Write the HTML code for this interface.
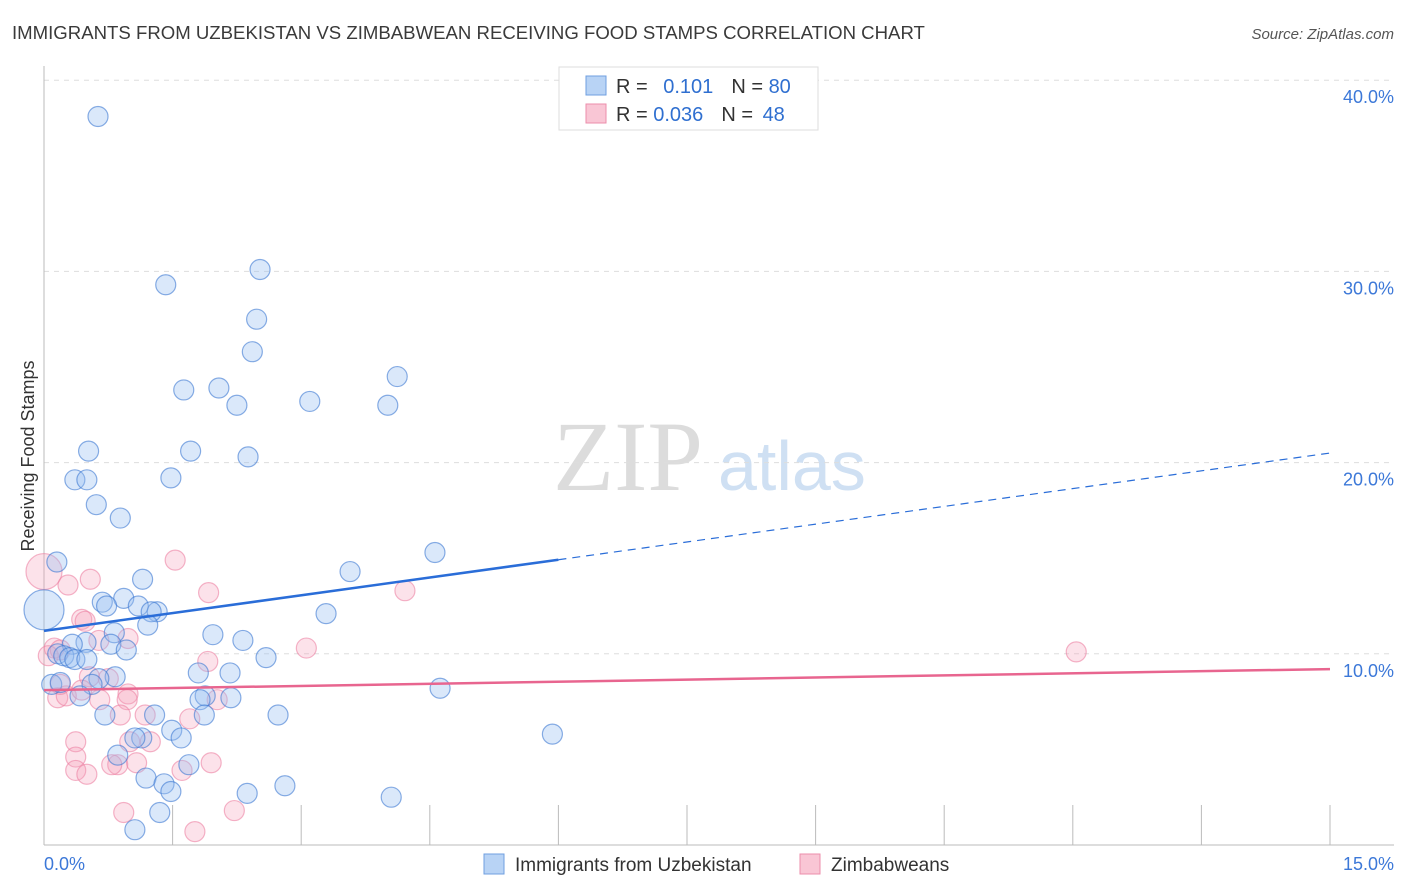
<!DOCTYPE html>
<html><head><meta charset="utf-8"><style>
body{margin:0;background:#fff;font-family:"Liberation Sans",sans-serif}
svg{display:block}
</style></head><body>
<svg id="c" width="1406" height="892">
<text x="12" y="39" font-size="18.6" fill="#3a3a3a">IMMIGRANTS FROM UZBEKISTAN VS ZIMBABWEAN RECEIVING FOOD STAMPS CORRELATION CHART</text>
<text x="1394" y="39" font-size="15" fill="#555" font-style="italic" text-anchor="end">Source: ZipAtlas.com</text>
<text x="34" y="456" font-size="18" fill="#333" text-anchor="middle" transform="rotate(-90 34 456)">Receiving Food Stamps</text>
<text x="553" y="490" font-size="100" fill="#dcdcdc" font-family="Liberation Serif,serif">ZIP</text>
<text x="718" y="490" font-size="70" fill="#cfe0f3">atlas</text>
<g id="grid"></g><g id="pts"></g><g id="lines"></g>
<g>
<rect x="559" y="67" width="259" height="63" fill="#fff" stroke="#ddd"/>
<rect x="586" y="76" width="20" height="19" fill="#b8d3f5" stroke="#6f9fe0"/>
<rect x="586" y="104" width="20" height="19" fill="#f9c6d5" stroke="#ec8eab"/>
<text x="616" y="93" font-size="20" fill="#333">R = <tspan fill="#2f6fd0" dx="10">0.101</tspan><tspan fill="#333" dx="18">N = </tspan><tspan fill="#2f6fd0">80</tspan></text>
<text x="616" y="121" font-size="20" fill="#333">R = <tspan fill="#2f6fd0">0.036</tspan><tspan fill="#333" dx="18">N = </tspan><tspan fill="#2f6fd0" dx="4">48</tspan></text>
</g>
<g>
<rect x="484" y="854" width="20" height="20" fill="#b8d3f5" stroke="#6f9fe0"/>
<text x="515" y="871" font-size="19" fill="#333">Immigrants from Uzbekistan</text>
<rect x="800" y="854" width="20" height="20" fill="#f9c6d5" stroke="#ec8eab"/>
<text x="831" y="871" font-size="19" fill="#333">Zimbabweans</text>
</g>
<text x="44" y="870" font-size="18" fill="#3c78d8">0.0%</text>
<text x="1394" y="870" font-size="18" fill="#3c78d8" text-anchor="end">15.0%</text>
</svg>
<script>
const yTicks=[10,20,30,40];
const blueX=[0.63,2.52,1.42,2.48,2.43,4.12,1.63,2.04,2.25,3.10,4.01,0.52,1.71,2.38,0.36,0.50,1.48,0.61,0.89,0.15,4.56,1.15,3.57,0.68,0.93,0.73,1.10,1.32,1.25,1.21,3.29,0.82,1.97,2.32,0.78,0.49,0.96,2.59,0.33,0.16,0.23,0.30,0.36,0.50,0.83,0.64,2.17,1.80,0.56,0.09,0.19,0.42,1.88,2.18,1.82,4.62,0.71,1.29,2.73,1.87,1.49,1.60,1.14,1.06,5.93,0.86,1.69,1.19,1.40,1.48,2.81,2.37,4.05,1.35,1.06,0.0];
const blueY=[38.1,30.1,29.3,27.5,25.8,24.5,23.8,23.9,23.0,23.2,23.0,20.6,20.6,20.3,19.1,19.1,19.2,17.8,17.1,14.8,15.3,13.9,14.3,12.7,12.9,12.5,12.5,12.2,12.2,11.5,12.1,11.1,11.0,10.7,10.5,10.6,10.2,9.8,10.5,10.0,9.9,9.8,9.7,9.7,8.8,8.7,9.0,9.0,8.4,8.4,8.5,7.8,7.8,7.7,7.6,8.2,6.8,6.8,6.8,6.8,6.0,5.6,5.6,5.6,5.8,4.7,4.2,3.5,3.2,2.8,3.1,2.7,2.5,1.7,0.8,12.3];
const blueR=[10,10,10,10,10,10,10,10,10,10,10,10,10,10,10,10,10,10,10,10,10,10,10,10,10,10,10,10,10,10,10,10,10,10,10,10,10,10,10,10,10,10,10,10,10,10,10,10,10,10,10,10,10,10,10,10,10,10,10,10,10,10,10,10,10,10,10,10,10,10,10,10,10,10,10,20];
const pinkX=[0.0,1.53,0.28,0.54,1.92,4.21,0.44,0.48,0.98,0.64,3.06,12.04,0.12,0.19,0.05,1.91,0.53,0.75,0.98,0.97,0.16,0.26,2.02,1.70,0.89,1.18,1.24,0.37,1.00,0.37,0.86,1.08,0.37,0.50,0.79,1.61,1.95,0.93,2.22,1.76,0.19,0.65,0.44];
const pinkY=[14.3,14.9,13.6,13.9,13.2,13.3,11.8,11.7,10.8,10.7,10.3,10.1,10.3,10.2,9.9,9.6,8.8,8.7,7.9,7.6,7.7,7.8,7.6,6.6,6.8,6.8,5.4,5.4,5.4,4.6,4.2,4.3,3.9,3.7,4.2,3.9,4.3,1.7,1.8,0.7,8.4,7.6,8.1];
const pinkR=[18,10,10,10,10,10,10,10,10,10,10,10,10,10,10,10,10,10,10,10,10,10,10,10,10,10,10,10,10,10,10,10,10,10,10,10,10,10,10,10,10,10,10];
const blueTrend=[11.2,20.5], pinkTrend=[8.1,9.2], blueSolidEnd=6.0;
const X=v=>44+v*1286/15, Y=v=>845-v*19.12;
const NS="http://www.w3.org/2000/svg";
function mk(t,a,p){const e=document.createElementNS(NS,t);for(const k in a)e.setAttribute(k,a[k]);p.appendChild(e);return e;}
const g=document.getElementById('grid');
for(const t of yTicks){
 const l=mk('line',{x1:44,x2:1394,y1:Y(t),y2:Y(t),stroke:'#ddd','stroke-dasharray':'5,5'},g);
 
 
 const tx=mk('text',{x:1394,y:Y(t)+23,'font-size':18,fill:'#3c78d8','text-anchor':'end'},g);
 tx.textContent=t.toFixed(1)+'%';
 
 
}
mk('line',{x1:44,x2:44,y1:66,y2:845,stroke:'#bbb'},g);
mk('line',{x1:44,x2:1394,y1:845,y2:845,stroke:'#bbb'},g);
for(let i=1;i<=10;i++){const l=mk('line',{x1:X(i*1.5),x2:X(i*1.5),y1:805,y2:845,stroke:'#bbb'},g);
 
 }
const p=document.getElementById('pts');
pinkX.forEach((x,i)=>{const c=mk('circle',{cx:X(x),cy:Y(pinkY[i]),r:pinkR[i],fill:'rgba(244,160,186,0.3)',stroke:'rgba(236,130,163,0.6)','stroke-width':1.2},p);
 
 });
blueX.forEach((x,i)=>{const c=mk('circle',{cx:X(x),cy:Y(blueY[i]),r:blueR[i],fill:'rgba(150,190,240,0.35)',stroke:'rgba(60,120,210,0.6)','stroke-width':1.2},p);
 
 });
const L=document.getElementById('lines');
const bAt=x=>blueTrend[0]+(blueTrend[1]-blueTrend[0])*x/15;
const b1=mk('line',{x1:X(0),y1:Y(bAt(0)),x2:X(blueSolidEnd),y2:Y(bAt(blueSolidEnd)),stroke:'#2a6dd8','stroke-width':2.5},L);


const b2=mk('line',{x1:X(blueSolidEnd),y1:Y(bAt(blueSolidEnd)),x2:X(15),y2:Y(bAt(15)),stroke:'#2a6dd8','stroke-width':1.2,'stroke-dasharray':'8,6'},L);


const pl=mk('line',{x1:X(0),y1:Y(pinkTrend[0]),x2:X(15),y2:Y(pinkTrend[1]),stroke:'#e8658f','stroke-width':2.5},L);


</script>
</body></html>
